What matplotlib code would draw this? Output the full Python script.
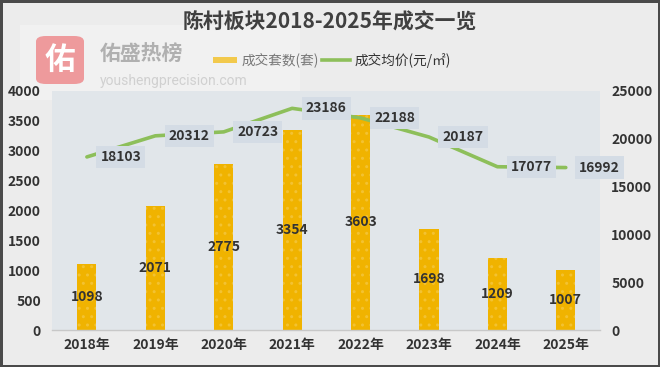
import matplotlib
matplotlib.use("Agg")
import matplotlib.pyplot as plt
from matplotlib.patches import FancyBboxPatch, Rectangle
from matplotlib.lines import Line2D
import numpy as np

plt.rcParams['font.family'] = ['Noto Sans CJK SC', 'DejaVu Sans']
plt.rcParams['hatch.linewidth'] = 1.0

years = ["2018年", "2019年", "2020年", "2021年", "2022年", "2023年", "2024年", "2025年"]
units = [1098, 2071, 2775, 3354, 3603, 1698, 1209, 1007]
prices = [18103, 20312, 20723, 23186, 22188, 20187, 17077, 16992]
left_ticks = [0, 500, 1000, 1500, 2000, 2500, 3000, 3500, 4000]
right_ticks = [0, 5000, 10000, 15000, 20000, 25000]
title = "陈村板块2018-2025年成交一览"
legend_labels = ["成交套数(套)", "成交均价(元/㎡)"]

W, H = 660, 367
fig = plt.figure(figsize=(W / 100, H / 100), dpi=100)
fig.patch.set_facecolor('#ececec')
fig.patch.set_edgecolor('#4a4a4a')
fig.patch.set_linewidth(2.5)

ax = fig.add_axes([52 / W, 1 - 330 / H, (600 - 52) / W, (330 - 91) / H])
ax.set_facecolor('#e1e6ea')
x = np.arange(len(years))
bar_color = '#f0b300'
bars = ax.bar(x, units, width=0.28, color=bar_color, edgecolor='#f3c232',
              linewidth=0, hatch='..', zorder=2)
ax.set_xlim(-0.51, 7.5)
ax.set_ylim(0, 4000)
ax.set_yticks(left_ticks)
ax.set_xticks(x)
ax.set_xticklabels(years)
for s in ['top', 'right', 'left']:
    ax.spines[s].set_visible(False)
ax.spines['bottom'].set_color('#c8c8c8')
ax.spines['bottom'].set_linewidth(1)
ax.tick_params(axis='both', length=0, labelsize=10, colors='#333333')
ax.tick_params(axis='x', pad=6)
ax.tick_params(axis='y', pad=8)
for lab in ax.get_xticklabels() + ax.get_yticklabels():
    lab.set_fontweight('bold')

for xi, v in zip(x, units):
    ax.text(xi, v / 2, str(v), ha='center', va='center', fontsize=10,
            fontweight='bold', color='#333333', zorder=5)

ax2 = ax.twinx()
ax2.set_ylim(0, 25000)
ax2.set_yticks(right_ticks)
for s in ['top', 'right', 'left', 'bottom']:
    ax2.spines[s].set_visible(False)
ax2.tick_params(axis='y', length=0, labelsize=10, colors='#333333', pad=8)
for lab in ax2.get_yticklabels():
    lab.set_fontweight('bold')
line_color = '#8dbf5a'
ax2.plot(x, prices, color=line_color, linewidth=2.6, solid_capstyle='round', zorder=3)
for xi, v in zip(x, prices):
    ax2.annotate(str(v), (xi, v), xytext=(34, 0), textcoords='offset pixels',
                 ha='center', va='center', fontsize=10, fontweight='bold', color='#333333',
                 bbox=dict(boxstyle='square,pad=0.3', fc='#d4dce5', ec='none'), zorder=6)

# title
fig.text(330 / W, 1 - 22 / H, title, ha='center', va='center', fontsize=15,
         fontweight='bold', color='#404040')

# legend
lx, ly = 213, 60
fig.patches.append(Rectangle((lx / W, 1 - (ly + 3) / H), 24 / W, 6 / H,
                             transform=fig.transFigure, facecolor='#f2c94c', edgecolor='none'))
fig.text(242 / W, 1 - ly / H, legend_labels[0], ha='left', va='center', fontsize=9.8, color='#777777')
fig.lines.append(Line2D([322 / W, 350 / W], [1 - ly / H, 1 - ly / H], transform=fig.transFigure,
                        color=line_color, linewidth=2.6))
fig.text(355 / W, 1 - ly / H, legend_labels[1], ha='left', va='center', fontsize=9.8, color='#333333')

# watermark
fig.patches.append(Rectangle((20 / W, 1 - 100 / H), 280 / W, 75 / H, transform=fig.transFigure,
                             facecolor='#f4f4f4', edgecolor='none', alpha=0.75, zorder=-1))
fig.patches.append(FancyBboxPatch((36 / W, 1 - 84 / H), 48 / W, 48 / H, transform=fig.transFigure,
                                  boxstyle='round,pad=0,rounding_size=0.015', facecolor='#ee9a9c',
                                  edgecolor='none'))
fig.text(60 / W, 1 - 60 / H, "佑", ha='center', va='center', fontsize=22, fontweight='bold', color='white')
fig.text(100 / W, 1 - 53 / H, "佑盛热榜", ha='left', va='center', fontsize=15, fontweight='bold',
         color='#b0b0b0')
fig.text(100 / W, 1 - 81 / H, "youshengprecision.com", ha='left', va='center', fontsize=10,
         color='#d0d0d0', family=['Roboto', 'DejaVu Sans'])

fig.savefig('out.png', dpi=100, facecolor=fig.get_facecolor(), edgecolor=fig.get_edgecolor())
